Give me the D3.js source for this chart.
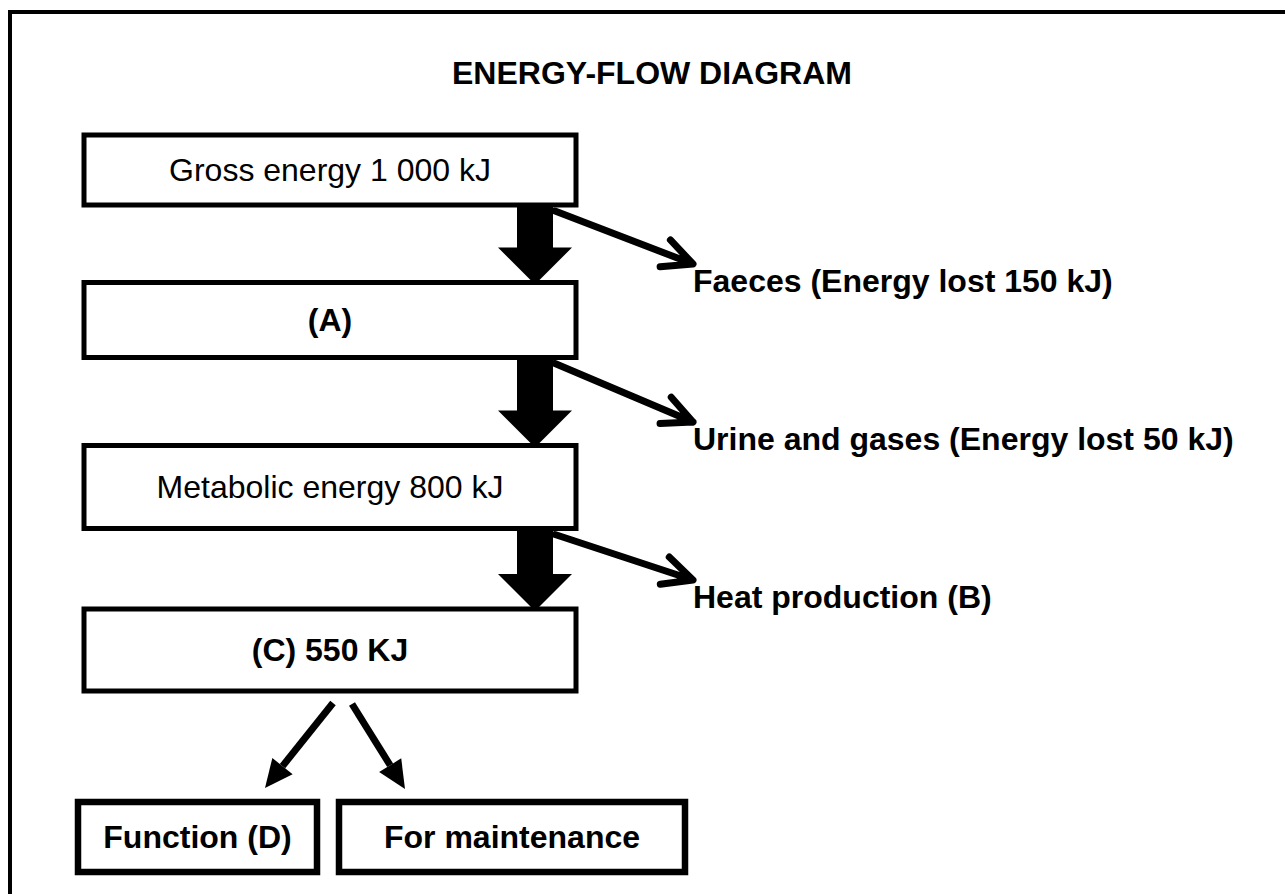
<!DOCTYPE html>
<html>
<head>
<meta charset="utf-8">
<script src="https://cdn.jsdelivr.net/npm/d3@7"></script>
<style>
    body { margin: 0; background: #fff; }
    svg { display: block; }
    text { font-family: "Liberation Sans", Arial, sans-serif; font-size: 32px; fill: #000; }
</style>
</head>
<body>
<script>
// diagram content
const title = 'ENERGY-FLOW DIAGRAM';
const stageLabels = ['Gross energy 1 000 kJ', '(A)', 'Metabolic energy 800 kJ', '(C) 550 KJ'];
const stageBold = [false, true, false, true];
const lossLabels = ['Faeces (Energy lost 150 kJ)', 'Urine and gases (Energy lost 50 kJ)', 'Heat production (B)'];
const endLabels = ['Function (D)', 'For maintenance'];

const width = 1285;
const height = 894;

const svg = d3.select('body').append('svg')
    .attr('width', width)
    .attr('height', height);

// frame, open at right and bottom
svg.append('path')
    .attr('d', `M10,${height} V12 H${width}`)
    .attr('fill', 'none')
    .attr('stroke', '#000')
    .attr('stroke-width', 4);

svg.append('text')
    .attr('x', 652)
    .attr('y', 84)
    .attr('text-anchor', 'middle')
    .style('font-weight', 'bold')
    .text(title);

// rows of the main column (spacing is a little uneven in the original)
const rowY = d3.scaleLinear()
    .domain([0, 1, 2, 3])
    .range([170, 320, 487, 650]);
const rowH = [70, 75, 83, 82];

const boxX = 84, boxW = 492;
const flowX = 535;
const boxTop = i => rowY(i) - rowH[i] / 2;
const boxBottom = i => rowY(i) + rowH[i] / 2;

const stages = svg.append('g');
stages.selectAll('rect')
    .data(stageLabels)
    .enter()
    .append('rect')
    .attr('x', boxX)
    .attr('y', (d, i) => boxTop(i))
    .attr('width', boxW)
    .attr('height', (d, i) => rowH[i])
    .attr('fill', '#fff')
    .attr('stroke', '#000')
    .attr('stroke-width', 5);

stages.selectAll('text')
    .data(stageLabels)
    .enter()
    .append('text')
    .attr('x', boxX + boxW / 2)
    .attr('y', (d, i) => rowY(i) + 11)
    .attr('text-anchor', 'middle')
    .style('font-weight', (d, i) => stageBold[i] ? 'bold' : 'normal')
    .text(d => d);

// thick block arrows between rows
const shaftW = 36, headW = 74, headL = 37;
function blockArrow(x, y0, y1) {
    const p = d3.path();
    p.moveTo(x - shaftW / 2, y0);
    p.lineTo(x + shaftW / 2, y0);
    p.lineTo(x + shaftW / 2, y1 - headL);
    p.lineTo(x + headW / 2, y1 - headL);
    p.lineTo(x, y1);
    p.lineTo(x - headW / 2, y1 - headL);
    p.lineTo(x - shaftW / 2, y1 - headL);
    p.closePath();
    return p.toString();
}

svg.append('g').selectAll('path')
    .data(d3.range(stageLabels.length - 1))
    .enter()
    .append('path')
    .attr('d', i => blockArrow(flowX, boxBottom(i), boxTop(i + 1) + 2))
    .attr('fill', '#000');

// open chevron arrow (line + two arms)
const line = d3.line();
function chevron(x0, y0, x1, y1, arm, spread) {
    const a = Math.atan2(y1 - y0, x1 - x0) + Math.PI;
    const p1 = [x1 + arm * Math.cos(a + spread), y1 + arm * Math.sin(a + spread)];
    const p2 = [x1 + arm * Math.cos(a - spread), y1 + arm * Math.sin(a - spread)];
    return line([[x0, y0], [x1, y1]]) + line([p1, [x1, y1], p2]);
}

const lossX = 693;
const lossY = [292, 450, 608];

const losses = svg.append('g');
losses.selectAll('path')
    .data(lossLabels)
    .enter()
    .append('path')
    .attr('d', (d, i) => chevron(555, boxBottom(i) + 6, lossX, lossY[i] - 28, 33, 0.45))
    .attr('fill', 'none')
    .attr('stroke', '#000')
    .attr('stroke-width', 7)
    .attr('stroke-linecap', 'round')
    .attr('stroke-linejoin', 'round');

losses.selectAll('text')
    .data(lossLabels)
    .enter()
    .append('text')
    .attr('x', lossX)
    .attr('y', (d, i) => lossY[i])
    .style('font-weight', 'bold')
    .text(d => d);

// the two end boxes
const endX = [78, 339], endW = [239, 346];
const endTop = 802, endH = 70;

const ends = svg.append('g');
ends.selectAll('rect')
    .data(endLabels)
    .enter()
    .append('rect')
    .attr('x', (d, i) => endX[i])
    .attr('y', endTop)
    .attr('width', (d, i) => endW[i])
    .attr('height', endH)
    .attr('fill', '#fff')
    .attr('stroke', '#000')
    .attr('stroke-width', 6.5);

ends.selectAll('text')
    .data(endLabels)
    .enter()
    .append('text')
    .attr('x', (d, i) => endX[i] + endW[i] / 2)
    .attr('y', endTop + endH / 2 + 11)
    .attr('text-anchor', 'middle')
    .style('font-weight', 'bold')
    .text(d => d);

// split arrows from (C) with solid heads
function solidArrow(x0, y0, x1, y1, hl, hw) {
    const a = Math.atan2(y1 - y0, x1 - x0);
    const bx = x1 - hl * Math.cos(a), by = y1 - hl * Math.sin(a);
    const nx = -Math.sin(a) * hw / 2, ny = Math.cos(a) * hw / 2;
    return {
        shaft: line([[x0, y0], [bx, by]]),
        head: line([[x1, y1], [bx + nx, by + ny], [bx - nx, by - ny]]) + 'Z'
    };
}

const cBottom = boxBottom(3);
const splits = [
    solidArrow(333, cBottom + 12, 265, 788, 28, 26),
    solidArrow(352, cBottom + 13, 405, 789, 28, 26)
];

const splitG = svg.append('g');
splitG.selectAll('path.shaft')
    .data(splits)
    .enter()
    .append('path')
    .attr('class', 'shaft')
    .attr('d', d => d.shaft)
    .attr('stroke', '#000')
    .attr('stroke-width', 7);

splitG.selectAll('path.head')
    .data(splits)
    .enter()
    .append('path')
    .attr('class', 'head')
    .attr('d', d => d.head)
    .attr('fill', '#000');
</script>
</body>
</html>
